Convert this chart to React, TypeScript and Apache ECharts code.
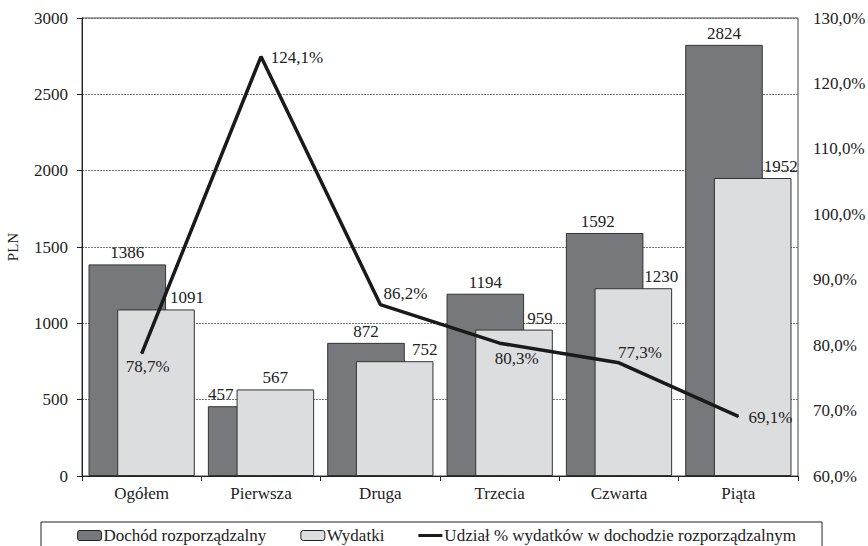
import React, { useEffect, useRef } from "react";
import * as echarts from "echarts";

const categories = ["Ogółem", "Pierwsza", "Druga", "Trzecia", "Czwarta", "Piąta"];
const income = [1386, 457, 872, 1194, 1592, 2824];
const spending = [1091, 567, 752, 959, 1230, 1952];
const sharePct = [78.7, 124.1, 86.2, 80.3, 77.3, 69.1];
const leftTicks = { min: 0, max: 3000, interval: 500 };
const rightTicks = { min: 60, max: 130, interval: 10 };
const seriesNames = [
  "Dochód rozporządzalny",
  "Wydatki",
  "Udział % wydatków w dochodzie rozporządzalnym",
];

// label placement styles (not data)
const incomeLabelOffsets = [0, -26, 0, 0, -7, 0];
const spendingLabelOffsets = [31, 0, 30, 26, 28, 28];
const shareLabelOffsets = [
  [6, 13],
  [36, 1],
  [25, -11],
  [17, 15],
  [21, -10],
  [32, 1],
];

const FONT = "'Liberation Serif', 'Times New Roman', serif";
const fmtPct = (v: number) => v.toFixed(1).replace(".", ",") + "%";

export default function App() {
  const ref = useRef<HTMLDivElement>(null);
  useEffect(() => {
    if (!ref.current) return;
    const chart = echarts.init(ref.current, undefined, { renderer: "svg" });
    const textStyle = { fontFamily: FONT, fontSize: 17, color: "#222" };
    chart.setOption({
      animation: false,
      textStyle: { fontFamily: FONT, fontSize: 17 },
      grid: {
        left: 82,
        right: 70,
        top: 18,
        bottom: 70,
        containLabel: false,
        outerBoundsMode: "none",
        show: true,
        borderColor: "#444",
        borderWidth: 1,
      },
      legend: {
        left: 41,
        top: 522,
        padding: [5, 26, 30, 36],
        itemGap: 34,
        itemWidth: 24,
        itemHeight: 10,
        borderColor: "#222",
        borderWidth: 1,
        textStyle: { ...textStyle, padding: [0, 0, 0, -3] },
        data: [
          { name: seriesNames[0], itemStyle: { color: "#77787c", borderColor: "#222", borderWidth: 1 } },
          { name: seriesNames[1], itemStyle: { color: "#dcdddf", borderColor: "#222", borderWidth: 1 } },
          {
            name: seriesNames[2],
            icon: "path://M0,0 L24,0 L24,3 L0,3 Z",
            itemStyle: { color: "#1a1a1a", borderWidth: 0 },
          },
        ],
      },
      xAxis: {
        type: "category",
        data: categories,
        axisLine: { lineStyle: { color: "#222", width: 1 } },
        axisTick: { show: true, length: 5, lineStyle: { color: "#222" } },
        axisLabel: { ...textStyle, margin: 9 },
      },
      yAxis: [
        {
          type: "value",
          ...leftTicks,
          name: "PLN",
          nameLocation: "middle",
          nameGap: 62,
          nameRotate: 90,
          nameTextStyle: { ...textStyle, fontSize: 15 },
          axisLine: { show: true, lineStyle: { color: "#222" } },
          axisTick: { show: true, length: 5, lineStyle: { color: "#222" } },
          axisLabel: { ...textStyle, margin: 14, formatter: (v: number) => String(v) },
          splitLine: { lineStyle: { color: "#777", type: [2, 1], width: 1 } },
        },
        {
          type: "value",
          ...rightTicks,
          position: "right",
          axisLine: { show: false },
          axisTick: { show: false },
          axisLabel: { ...textStyle, margin: 15, formatter: (v: number) => fmtPct(v) },
          splitLine: { show: false },
        },
      ],
      series: [
        {
          name: seriesNames[0],
          type: "bar",
          barWidth: "65%",
          barGap: "-63%",
          itemStyle: { color: "#77787c", borderColor: "#333", borderWidth: 1 },
          data: income.map((v, i) => ({
            value: v,
            label: { offset: [incomeLabelOffsets[i], 0] },
          })),
          label: { show: true, position: "top", distance: 3, ...textStyle },
        },
        {
          name: seriesNames[1],
          type: "bar",
          barWidth: "65%",
          barGap: "-63%",
          itemStyle: { color: "#dcdddf", borderColor: "#333", borderWidth: 1 },
          data: spending.map((v, i) => ({
            value: v,
            label: { offset: [spendingLabelOffsets[i], 0] },
          })),
          label: { show: true, position: "top", distance: 3, ...textStyle },
        },
        {
          name: seriesNames[2],
          type: "line",
          yAxisIndex: 1,
          symbol: "circle",
          symbolSize: 1,
          itemStyle: { color: "#1a1a1a" },
          lineStyle: { color: "#1a1a1a", width: 3.5 },
          z: 5,
          data: sharePct.map((v, i) => ({
            value: v,
            label: { offset: shareLabelOffsets[i] },
          })),
          label: {
            show: true,
            position: "inside",
            ...textStyle,
            formatter: (p: any) => fmtPct(p.value),
          },
        },
      ],
    });
    return () => chart.dispose();
  }, []);
  return <div ref={ref} style={{ width: 868, height: 546, position: "absolute", left: 0, top: 0 }} />;
}
